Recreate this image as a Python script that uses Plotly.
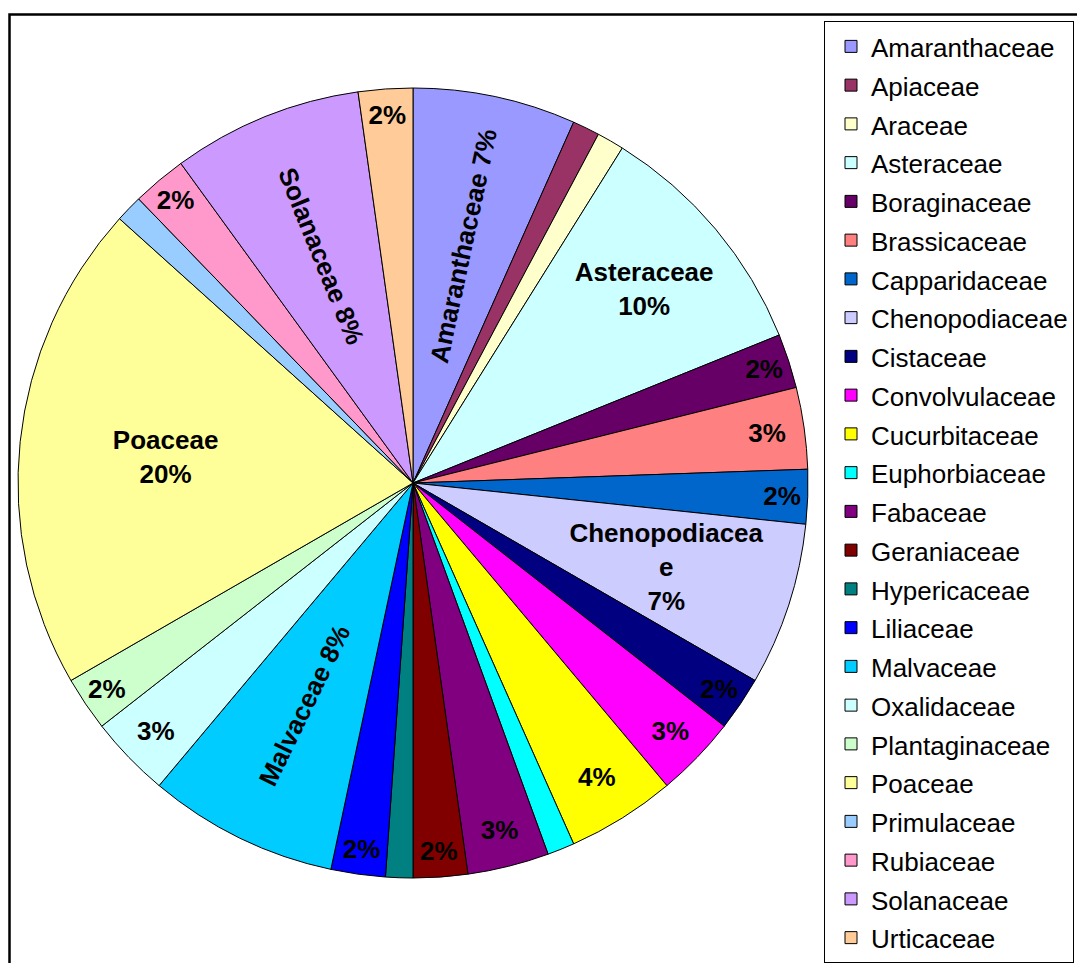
import plotly.graph_objects as go

categories = ["Amaranthaceae", "Apiaceae", "Araceae", "Asteraceae", "Boraginaceae",
              "Brassicaceae", "Capparidaceae", "Chenopodiaceae", "Cistaceae",
              "Convolvulaceae", "Cucurbitaceae", "Euphorbiaceae", "Fabaceae",
              "Geraniaceae", "Hypericaceae", "Liliaceae", "Malvaceae", "Oxalidaceae",
              "Plantaginaceae", "Poaceae", "Primulaceae", "Rubiaceae", "Solanaceae",
              "Urticaceae"]
counts = [6, 1, 1, 9, 2, 3, 2, 6, 2, 3, 4, 1, 3, 2, 1, 2, 7, 3, 2, 18, 1, 2, 7, 2]
colors = ["#9999FF", "#993366", "#FFFFCC", "#CCFFFF", "#660066", "#FF8080", "#0066CC",
          "#CCCCFF", "#000080", "#FF00FF", "#FFFF00", "#00FFFF", "#800080", "#800000",
          "#008080", "#0000FF", "#00CCFF", "#CCFFFF", "#CCFFCC", "#FFFF99", "#99CCFF",
          "#FF99CC", "#CC99FF", "#FFCC99"]
# label style per slice: "name" = name + percent horizontal, "pct" = percent only,
# "radial" = name + percent along radius, "" = no label
label_kind = ["radial", "", "", "name", "pct", "pct", "pct", "name", "pct", "pct", "pct", "",
              "pct", "pct", "", "pct", "radial", "pct", "pct", "name", "", "pct", "radial", "pct"]
display_names = {"Chenopodiaceae": "Chenopodiacea<br>e"}

FONT = "Liberation Sans, Arial, sans-serif"
LABEL_SIZE = 26
LEGEND_SIZE = 26
PAD = "&nbsp;" * 16  # pulls the wrapped Chenopodiaceae label toward the centre

legend_labels = [f"<span style='font-size:{LEGEND_SIZE}px'>{c}</span>" for c in categories]

tmpl_h = []
tmpl_r = []
for c, k in zip(categories, label_kind):
    name = display_names.get(c, c)
    if k == "name":
        if "<br>" in name:
            lines = name.split("<br>") + ["%{percent:.0%}"]
            tmpl_h.append("<br>".join(l + PAD for l in lines) + "<br>&nbsp;")
        else:
            tmpl_h.append(f"{name}<br>%{{percent:.0%}}")
        tmpl_r.append("")
    elif k == "pct":
        tmpl_h.append("%{percent:.0%}")
        tmpl_r.append("")
    elif k == "radial":
        tmpl_h.append("")
        tmpl_r.append(f"{name} %{{percent:.0%}}")
    else:
        tmpl_h.append("")
        tmpl_r.append("")

OFF = 8  # page body margin
W, H = 1085 - OFF, 963 - OFF
def px_x(v):
    return (v - OFF) / W
def px_y(v):
    return 1 - (v - OFF) / H

dom_x = [px_x(18), px_x(808)]
dom_y = [px_y(878), px_y(88)]

fig = go.Figure()
fig.add_trace(go.Pie(
    labels=legend_labels, values=counts, sort=False, direction="clockwise", rotation=0,
    marker=dict(colors=colors, line=dict(color="black", width=1)),
    texttemplate=tmpl_h, textposition="inside", insidetextorientation="horizontal",
    insidetextfont=dict(family=FONT, size=LABEL_SIZE, color="black", weight="bold"),
    domain=dict(x=dom_x, y=dom_y), hoverinfo="skip", showlegend=True,
))
fig.add_trace(go.Pie(
    labels=categories, values=counts, sort=False, direction="clockwise", rotation=0,
    marker=dict(colors=["rgba(0,0,0,0)"] * len(categories), line=dict(width=0)),
    texttemplate=tmpl_r, textposition="inside", insidetextorientation="radial",
    insidetextfont=dict(family=FONT, size=LABEL_SIZE, color="black", weight="bold"),
    domain=dict(x=dom_x, y=dom_y), hoverinfo="skip", showlegend=False,
))

fig.update_layout(
    width=W, height=H, margin=dict(l=0, r=0, t=0, b=0),
    paper_bgcolor="white", plot_bgcolor="white",
    font=dict(family=FONT, color="black"),
    uniformtext=dict(minsize=LABEL_SIZE, mode="show"),
    legend=dict(x=px_x(824), y=px_y(22), xanchor="left", yanchor="top",
                bordercolor="black", borderwidth=1, bgcolor="white",
                font=dict(family=FONT, size=27.5, color="black"), valign="middle",
                traceorder="normal", indentation=6),
    shapes=[dict(type="rect", xref="paper", yref="paper",
                 x0=px_x(9.5), x1=1.05, y0=-0.05, y1=px_y(14.5),
                 line=dict(color="black", width=2.5))],
)

fig.write_html("out.html")
